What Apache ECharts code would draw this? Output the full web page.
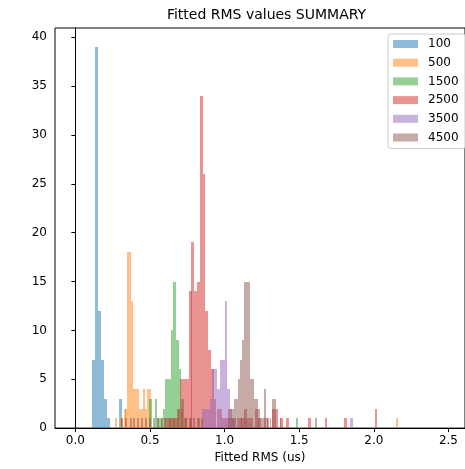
<!DOCTYPE html>
<html>
<head>
<meta charset="utf-8">
<script src="https://cdn.jsdelivr.net/npm/echarts@6/dist/echarts.min.js"></script>
<style>
  html, body { margin: 0; padding: 0; background: #fff; }
  #main { width: 465px; height: 469px; }
</style>
</head>
<body>
<div id="main"></div>
<script>
// histogram bins: [bin left edge, count], one width per series
var blueWidth = 0.02;
var blueBins = [[0.114, 7], [0.134, 39], [0.154, 12], [0.174, 7], [0.194, 3], [0.214, 1], [0.294, 3]];

var orangeWidth = 0.0133;
var orangeBins = [[0.269, 1], [0.296, 1], [0.309, 1], [0.323, 2], [0.336, 2], [0.349, 18], [0.362, 18],
    [0.376, 13], [0.389, 4], [0.402, 4], [0.416, 4], [0.429, 2], [0.442, 2], [0.456, 4], [0.469, 2],
    [0.482, 4], [0.495, 4], [2.150, 1]];

var greenWidth = 0.018;
var greenBins = [[0.495, 3], [0.531, 3], [0.549, 1], [0.567, 1], [0.585, 2], [0.603, 5], [0.621, 5],
    [0.639, 10], [0.657, 15], [0.675, 9], [0.693, 6], [0.711, 3], [0.729, 1], [0.765, 1], [0.819, 1],
    [1.476, 1]];

var redWidth = 0.0186;
var redBins = [[0.592, 1], [0.611, 1], [0.629, 1], [0.648, 1], [0.667, 1], [0.685, 2], [0.704, 5],
    [0.722, 5], [0.741, 5], [0.760, 14], [0.778, 19], [0.797, 14], [0.816, 15], [0.834, 34], [0.853, 26],
    [0.872, 12], [0.890, 8], [0.909, 6], [0.927, 3], [0.946, 2], [0.964, 2], [0.983, 1], [1.001, 1],
    [1.020, 2], [1.039, 1], [1.057, 1], [1.095, 1], [1.113, 1], [1.132, 2], [1.150, 1], [1.169, 1],
    [1.206, 2], [1.225, 1], [1.262, 1], [1.281, 1], [1.318, 2], [1.337, 2], [1.374, 1], [1.411, 1],
    [1.560, 1], [1.671, 1], [1.801, 1], [2.006, 2]];

var purpleWidth = 0.0166;
var purpleBins = [[0.850, 2], [0.867, 2], [0.883, 2], [0.900, 3], [0.917, 6], [0.933, 6], [0.950, 4],
    [0.967, 7], [0.983, 7], [1.000, 13], [1.017, 4], [1.033, 2], [1.050, 1], [1.083, 1], [1.133, 1],
    [1.216, 1], [1.842, 1]];

var brownWidth = 0.0133;
var brownBins = [[0.309, 1], [0.336, 1], [0.363, 1], [0.389, 1], [0.416, 1], [0.442, 1], [0.469, 1],
    [0.496, 1], [0.522, 1], [0.549, 1], [0.575, 1], [0.602, 1], [0.628, 1], [0.655, 1], [0.682, 2],
    [0.708, 2], [0.735, 1], [0.761, 1], [0.788, 1], [0.815, 1], [0.841, 1],
    [1.022, 1], [1.035, 2], [1.049, 2], [1.062, 3], [1.075, 3], [1.089, 5], [1.102, 7], [1.115, 9],
    [1.128, 15], [1.142, 15], [1.155, 15], [1.168, 5], [1.182, 5], [1.195, 3], [1.208, 3], [1.222, 2],
    [1.235, 1], [1.248, 1], [1.262, 4], [1.275, 1], [1.301, 1], [1.315, 3], [1.328, 3], [1.368, 1],
    [1.607, 1]];

var seriesNames = ["100", "500", "1500", "2500", "3500", "4500"];
var xTicks = [0, 0.5, 1.0, 1.5, 2.0, 2.5];
var yTicks = [0, 5, 10, 15, 20, 25, 30, 35, 40];

var font = "'DejaVu Sans', sans-serif";

function histSeries(name, color, bins, width) {
    return {
        name: name,
        type: "custom",
        itemStyle: { color: color },
        encode: { x: [0, 1], y: 2 },
        data: bins.map(function (b) {
            return [b[0], b[0] + width, b[1]];
        }),
        renderItem: function (params, api) {
            var p0 = api.coord([api.value(0), 0]);
            var p1 = api.coord([api.value(1), api.value(2)]);
            // snap edges to whole pixels so neighbouring bins meet without seams
            var x0 = Math.round(p0[0]);
            var x1 = Math.round(p1[0]);
            var yb = Math.round(p0[1]);
            var yt = Math.round(p1[1]);
            return {
                type: "rect",
                shape: { x: x0, y: yt, width: Math.max(x1 - x0, 1), height: yb - yt },
                style: { fill: color }
            };
        }
    };
}

var chart = echarts.init(document.getElementById("main"));

var option = {
    animation: false,
    textStyle: { fontFamily: font },
    title: {
        text: "Fitted RMS values SUMMARY",
        left: 261.5,
        top: 3,
        textAlign: "center",
        textStyle: { fontFamily: font, fontSize: 14, fontWeight: "normal", color: "#000" }
    },
    legend: {
        data: seriesNames,
        orient: "vertical",
        left: 388,
        top: 34,
        padding: [3, 7, 4, 5],
        itemGap: 4.7,
        itemWidth: 25,
        itemHeight: 8,
        icon: "rect",
        backgroundColor: "rgba(255,255,255,0.8)",
        borderColor: "#cccccc",
        borderWidth: 1,
        borderRadius: 3,
        textStyle: { fontFamily: font, fontSize: 12, lineHeight: 14, color: "#000", padding: [0, 0, 0, 5] }
    },
    grid: {
        left: 55,
        top: 28,
        width: 413,
        height: 403,
        show: true,
        borderColor: "#000",
        borderWidth: 1
    },
    xAxis: {
        type: "value",
        min: -0.1364,
        max: 2.611,
        name: "Fitted RMS (us)",
        nameLocation: "middle",
        nameGap: 23,
        nameTextStyle: { fontFamily: font, fontSize: 12, color: "#000" },
        axisLine: { lineStyle: { color: "#000", width: 1 } },
        axisTick: { customValues: xTicks, length: 4, lineStyle: { color: "#000" } },
        axisLabel: {
            customValues: xTicks,
            margin: 7,
            fontSize: 12,
            color: "#000",
            formatter: function (v) { return v.toFixed(1); }
        },
        splitLine: { show: false }
    },
    yAxis: {
        type: "value",
        min: 0,
        max: 40.95,
        axisLine: { show: true, lineStyle: { color: "#000", width: 1 } },
        axisTick: { show: true, customValues: yTicks, length: 4, lineStyle: { color: "#000" } },
        axisLabel: { customValues: yTicks, margin: 8, fontSize: 12, color: "#000" },
        splitLine: { show: false }
    },
    series: [
        histSeries("100", "rgba(31,119,180,0.5)", blueBins, blueWidth),
        histSeries("500", "rgba(255,127,14,0.5)", orangeBins, orangeWidth),
        histSeries("1500", "rgba(44,160,44,0.5)", greenBins, greenWidth),
        histSeries("2500", "rgba(214,39,40,0.5)", redBins, redWidth),
        histSeries("3500", "rgba(148,103,189,0.5)", purpleBins, purpleWidth),
        histSeries("4500", "rgba(140,86,75,0.5)", brownBins, brownWidth)
    ]
};

chart.setOption(option);
</script>
</body>
</html>
